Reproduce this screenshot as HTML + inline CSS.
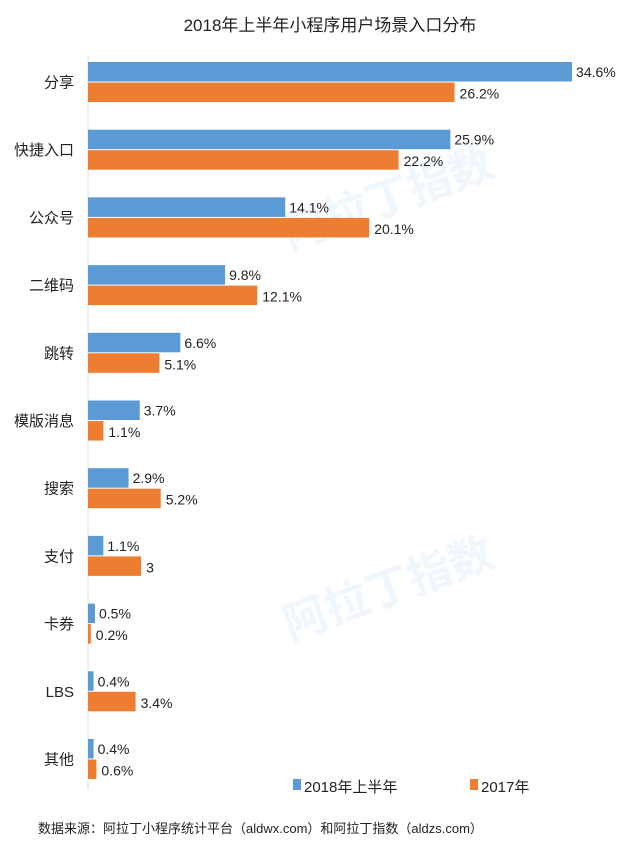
<!DOCTYPE html>
<html><head><meta charset="utf-8"><style>
html,body{margin:0;padding:0;background:#fff;}
svg{display:block;font-family:"Liberation Sans","Noto Sans CJK SC",sans-serif;}
</style></head><body>
<svg id="c" width="631" height="843" viewBox="0 0 631 843">
<text x="330" y="31" text-anchor="middle" font-size="17" fill="#222">2018年上半年小程序用户场景入口分布</text>
<g opacity="0.08" fill="#3a8be0" font-size="44" font-weight="bold">
<text x="290" y="250" transform="rotate(-20 290 250)">阿拉丁指数</text>
<text x="290" y="640" transform="rotate(-20 290 640)">阿拉丁指数</text>
</g>
<line x1="88" y1="55" x2="88" y2="790" stroke="#d9d9d9" stroke-width="1"/>
<g id="bars"></g>
<rect x="293" y="779" width="8" height="11" fill="#5b9bd5"/>
<text x="304" y="792" font-size="15" fill="#222">2018年上半年</text>
<rect x="470" y="779" width="8" height="11" fill="#ed7d31"/>
<text x="481" y="792" font-size="15" fill="#222">2017年</text>
<text x="38" y="833" font-size="13" fill="#222">数据来源：阿拉丁小程序统计平台（aldwx.com）和阿拉丁指数（aldzs.com）</text>
</svg>
<script>
const categories=["分享","快捷入口","公众号","二维码","跳转","模版消息","搜索","支付","卡券","LBS","其他"];
const series2018=[34.6,25.9,14.1,9.8,6.6,3.7,2.9,1.1,0.5,0.4,0.4];
const series2017=[26.2,22.2,20.1,12.1,5.1,1.1,5.2,3.8,0.2,3.4,0.6];
const labels2018=["34.6%","25.9%","14.1%","9.8%","6.6%","3.7%","2.9%","1.1%","0.5%","0.4%","0.4%"];
const labels2017=["26.2%","22.2%","20.1%","12.1%","5.1%","1.1%","5.2%","3","0.2%","3.4%","0.6%"];
const NS="http://www.w3.org/2000/svg";
const g=document.getElementById("bars");
const x0=88,scale=13.99;
function xs(v){return x0+v*scale;}
function ys(i){return 62+i*67.7;}
const bh=19.5;
function mk(tag,attrs){const e=document.createElementNS(NS,tag);for(const k in attrs)e.setAttribute(k,attrs[k]);return e;}
categories.forEach((c,i)=>{
  const y=ys(i);
  const t=mk("text",{x:74,y:y+bh+6,"text-anchor":"end","font-size":"15",fill:"#222"});
  t.textContent=c;
  
  
  g.appendChild(t);
  const b1=mk("rect",{x:x0,y:y,width:xs(series2018[i])-x0,height:bh,fill:"#5b9bd5"});
  
  
  g.appendChild(b1);
  const b2=mk("rect",{x:x0,y:y+bh+1,width:xs(series2017[i])-x0,height:bh,fill:"#ed7d31"});
  
  
  g.appendChild(b2);
  const l1=mk("text",{x:xs(series2018[i])+4,y:y+15,"font-size":"14",fill:"#222"});
  l1.textContent=labels2018[i];
  
  
  g.appendChild(l1);
  const l2=mk("text",{x:xs(series2017[i])+5,y:y+bh+17,"font-size":"14",fill:"#222"});
  l2.textContent=labels2017[i];
  
  
  g.appendChild(l2);
});
</script>
</body></html>
